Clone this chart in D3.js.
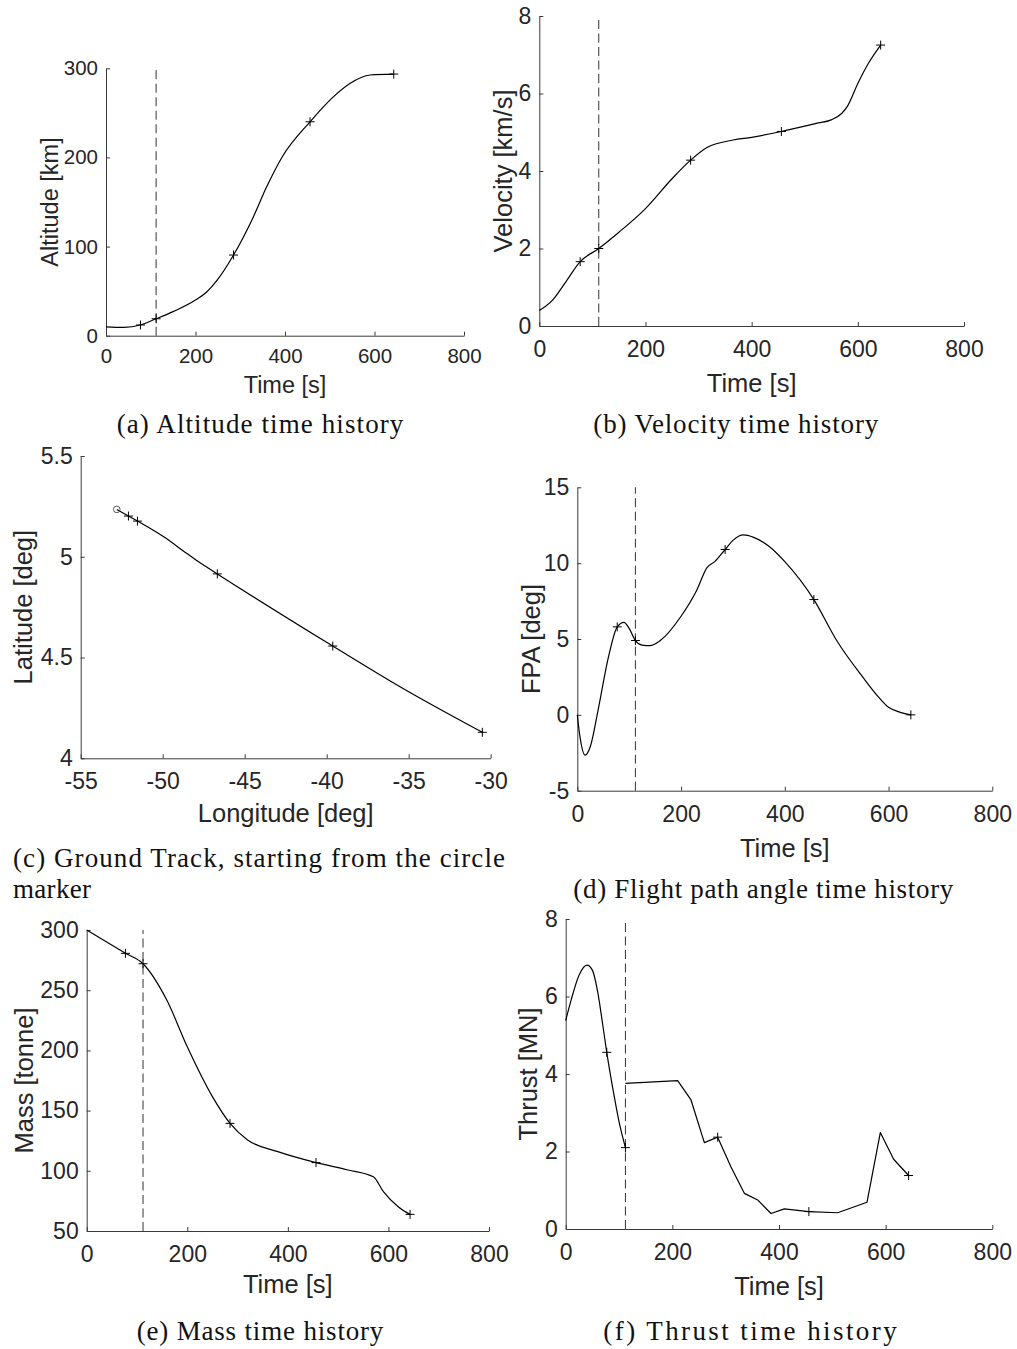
<!DOCTYPE html>
<html><head><meta charset="utf-8">
<script src="https://cdn.jsdelivr.net/npm/d3@7"></script>
<style>
body{margin:0;background:#fff;}
svg{display:block;}
</style></head><body>
<svg id="fig" width="1017" height="1349"></svg>
<script>
// ---------------- data ----------------
const stageSepTime = 112;
const markerTimes = [77, 112, 285, 456, 643];

const timeTicks = [0, 200, 400, 600, 800];
const altTicks = [0, 100, 200, 300];
const velTicks = [0, 2, 4, 6, 8];
const lonTicks = [-55, -50, -45, -40, -35, -30];
const latTicks = [4, 4.5, 5, 5.5];
const fpaTicks = [-5, 0, 5, 10, 15];
const massTicks = [50, 100, 150, 200, 250, 300];
const thrustTicks = [0, 2, 4, 6, 8];

// (a) altitude [km]
const altTime = [0, 40, 77, 112, 150, 200, 225, 248, 285, 329, 359, 393, 456, 508, 545, 590, 643];
const altKm   = [10, 9.4, 12, 19, 27, 40, 49, 62, 90.5, 133, 167, 200, 240, 268, 283, 292.5, 293.5];
const altMarkers = [12, 19, 90.5, 240, 293.5];

// (b) velocity [km/s]
const velTime = [0, 25, 50, 77, 112, 150, 200, 250, 285, 315, 365, 400, 456, 522, 550, 570, 580, 600, 620, 643];
const velKms  = [0.4, 0.67, 1.14, 1.66, 2.0, 2.42, 3.03, 3.8, 4.28, 4.6, 4.8, 4.87, 5.02, 5.23, 5.32, 5.49, 5.66, 6.26, 6.78, 7.25];
const velMarkers = [1.66, 2.0, 4.28, 5.02, 7.25];

// (c) ground track
const trackLon = [-52.8, -52.09, -51.54, -49.96, -48.54, -47.72, -46.67, -39.63, -35.53, -30.51];
const trackLat = [5.235, 5.202, 5.177, 5.10, 5.017, 4.97, 4.915, 4.557, 4.355, 4.129];
const trackMarkerLon = [-52.09, -51.54, -46.67, -39.63, -30.51];
const trackMarkerLat = [5.202, 5.177, 4.915, 4.557, 4.129];
const trackStart = [-52.8, 5.235];

// (d) flight path angle [deg]
const fpaTime = [0, 5, 15, 25, 40, 60, 77, 90, 100, 112, 125, 140, 160, 200, 230, 250, 265, 285, 300, 320, 340, 370, 400, 456, 500, 550, 580, 600, 620, 643];
const fpaDeg  = [0, -1.4, -2.65, -2.1, 0.3, 3.8, 5.8, 6.1, 5.7, 4.9, 4.6, 4.56, 4.9, 6.5, 8.2, 9.7, 10.1, 10.9, 11.5, 11.86, 11.7, 11.1, 10.1, 7.6, 4.9, 2.5, 1.2, 0.5, 0.2, 0];
const fpaMarkers = [5.8, 4.9, 10.9, 7.6, 0];

// (e) mass [tonne]
const massTime  = [0, 77, 112, 159, 200, 250, 285, 320, 380, 456, 520, 570, 590, 620, 643];
const massTonne = [300, 280.6, 272, 242, 203, 161.6, 139.4, 125.6, 115.9, 106.8, 100.7, 95, 82.7, 70, 63.8];
const massMarkers = [280.6, 272, 139.4, 106.8, 63.8];

// (f) thrust [MN] — two separate phases
const thrustTime1 = [0, 10, 25, 40, 50, 60, 70, 77, 90, 100, 112];
const thrustMN1   = [5.38, 5.9, 6.55, 6.81, 6.68, 6.12, 5.22, 4.56, 3.5, 2.77, 2.1];
const thrustTime2 = [112, 210, 235, 260, 285, 310, 335, 360, 385, 410, 456, 510, 565, 590, 615, 643];
const thrustMN2   = [3.76, 3.83, 3.33, 2.23, 2.37, 1.6, 0.92, 0.75, 0.4, 0.52, 0.45, 0.42, 0.69, 2.49, 1.8, 1.38];
const thrustMarkers = [4.56, 2.1, 2.37, 0.45, 1.38];

// ---------------- layout ----------------
const svg = d3.select('#fig');
const sansFont = "'Liberation Sans', Arial, Helvetica, sans-serif";
const serifFont = "'Liberation Serif', 'Times New Roman', serif";
const textColor = '#262626';
const axisColor = '#3a3a3a';
const captionFs = 27;

const panels = [
  { left: 106, right: 464, top: 68.3, bottom: 335.7, xDomain: [0, 800], yDomain: [0, 300],
    xTicks: timeTicks, yTicks: altTicks, xLabel: 'Time [s]', yLabel: 'Altitude [km]',
    tickFs: 20.5, labFs: 23.5, xPad: 13, xLabY: 393, yLabX: 57.5,
    series: [[altTime, altKm, 'smooth']], markers: [markerTimes, altMarkers], dashed: true,
    caption: { text: '(a) Altitude time history', cx: 260, y: 433, w: 286.7 } },
  { left: 539.3, right: 964, top: 16, bottom: 326, xDomain: [0, 800], yDomain: [0, 8],
    xTicks: timeTicks, yTicks: velTicks, xLabel: 'Time [s]', yLabel: 'Velocity [km/s]',
    tickFs: 23, labFs: 25.5, xPad: 14.8, xLabY: 391.7, yLabX: 511.5,
    series: [[velTime, velKms, 'smooth']], markers: [markerTimes, velMarkers], dashed: true,
    caption: { text: '(b) Velocity time history', cx: 735.8, y: 433, w: 285 } },
  { left: 80.7, right: 490.7, top: 456, bottom: 758.3, xDomain: [-55, -30], yDomain: [4, 5.5],
    xTicks: lonTicks, yTicks: latTicks, xLabel: 'Longitude [deg]', yLabel: 'Latitude [deg]',
    tickFs: 23, labFs: 25.5, xPad: 14.8, xLabY: 821.7, yLabX: 32.3,
    series: [[trackLon, trackLat, 'smooth']], markers: [trackMarkerLon, trackMarkerLat], dashed: false,
    start: trackStart,
    caption: { text: '(c) Ground Track, starting from the circle', x: 13, y: 866.7, w: 492,
               text2: 'marker', y2: 898, w2: 78 } },
  { left: 577.3, right: 992.3, top: 487.3, bottom: 790.7, xDomain: [0, 800], yDomain: [-5, 15],
    xTicks: timeTicks, yTicks: fpaTicks, xLabel: 'Time [s]', yLabel: 'FPA [deg]',
    tickFs: 23, labFs: 25.5, xPad: 14.8, xLabY: 856.7, yLabX: 540,
    series: [[fpaTime, fpaDeg, 'smooth']], markers: [markerTimes, fpaMarkers], dashed: true,
    caption: { text: '(d) Flight path angle time history', cx: 763.3, y: 898, w: 380 } },
  { left: 86.7, right: 489, top: 930, bottom: 1231, xDomain: [0, 800], yDomain: [50, 300],
    xTicks: timeTicks, yTicks: massTicks, xLabel: 'Time [s]', yLabel: 'Mass [tonne]',
    tickFs: 23, labFs: 25.5, xPad: 14.8, xLabY: 1293, yLabX: 33.3,
    series: [[massTime, massTonne, 'smooth']], markers: [markerTimes, massMarkers], dashed: true,
    caption: { text: '(e) Mass time history', cx: 260, y: 1340, w: 246.7 } },
  { left: 565.7, right: 992.3, top: 919, bottom: 1229, xDomain: [0, 800], yDomain: [0, 8],
    xTicks: timeTicks, yTicks: thrustTicks, xLabel: 'Time [s]', yLabel: 'Thrust [MN]',
    tickFs: 23, labFs: 25.5, xPad: 14.8, xLabY: 1295, yLabX: 536.7,
    series: [[thrustTime1, thrustMN1, 'smooth'], [thrustTime2, thrustMN2, 'linear']],
    markers: [markerTimes, thrustMarkers], dashed: true,
    caption: { text: '(f) Thrust time history', cx: 750, y: 1340, w: 293.3 } }
];

function styleAxis(sel, fs) {
  sel.attr('font-family', sansFont).attr('font-size', fs);
  sel.select('.domain').attr('stroke', axisColor).attr('stroke-width', 1);
  sel.selectAll('.tick line').attr('stroke', axisColor).attr('stroke-width', 1);
  sel.selectAll('.tick text').attr('fill', textColor);
}

function drawPanel(p) {
  const g = svg.append('g');
  const x = d3.scaleLinear().domain(p.xDomain).range([p.left, p.right]);
  const y = d3.scaleLinear().domain(p.yDomain).range([p.bottom, p.top]);
  const fmt = d => String(d);

  const xAxis = d3.axisBottom(x).tickValues(p.xTicks).tickFormat(fmt)
    .tickSizeInner(-4).tickSizeOuter(0).tickPadding(p.xPad);
  const yAxis = d3.axisLeft(y).tickValues(p.yTicks).tickFormat(fmt)
    .tickSizeInner(-4).tickSizeOuter(0).tickPadding(8);

  g.append('g').attr('transform', `translate(0,${p.bottom})`).call(xAxis).call(s => styleAxis(s, p.tickFs));
  g.append('g').attr('transform', `translate(${p.left},0)`).call(yAxis).call(s => styleAxis(s, p.tickFs));

  // axis labels
  g.append('text').attr('x', (p.left + p.right) / 2).attr('y', p.xLabY)
    .attr('text-anchor', 'middle').attr('font-family', sansFont).attr('font-size', p.labFs)
    .attr('fill', textColor).text(p.xLabel);
  g.append('text').attr('transform', `translate(${p.yLabX},${(p.top + p.bottom) / 2}) rotate(-90)`)
    .attr('text-anchor', 'middle').attr('font-family', sansFont).attr('font-size', p.labFs)
    .attr('fill', textColor).text(p.yLabel);

  // stage separation dashed line
  if (p.dashed) {
    g.append('line').attr('x1', x(stageSepTime)).attr('x2', x(stageSepTime))
      .attr('y1', p.bottom).attr('y2', p.top)
      .attr('stroke', '#333').attr('stroke-width', 1).attr('stroke-dasharray', '9,4.5');
  }

  // curves
  p.series.forEach(([xs, ys, kind]) => {
    const pts = xs.map((v, i) => [v, ys[i]]);
    const line = d3.line().x(d => x(d[0])).y(d => y(d[1]))
      .curve(kind === 'smooth' ? d3.curveMonotoneX : d3.curveLinear);
    g.append('path').attr('d', line(pts)).attr('fill', 'none')
      .attr('stroke', '#000').attr('stroke-width', 1.2).attr('stroke-linejoin', 'round');
  });

  // start circle (ground track)
  if (p.start) {
    g.append('circle').attr('cx', x(p.start[0])).attr('cy', y(p.start[1])).attr('r', 3.3)
      .attr('fill', 'none').attr('stroke', '#444').attr('stroke-width', 0.9);
  }

  // plus markers
  const [mx, my] = p.markers;
  const s = 4.5;
  g.append('g').selectAll('path').data(mx.map((v, i) => [v, my[i]])).join('path')
    .attr('d', d => {
      const cx = x(d[0]), cy = y(d[1]);
      return `M${cx - s},${cy}H${cx + s}M${cx},${cy - s}V${cy + s}`;
    })
    .attr('stroke', '#000').attr('stroke-width', 1).attr('fill', 'none');

  // caption
  const c = p.caption;
  const cap = g.append('text').attr('font-family', serifFont).attr('font-size', captionFs)
    .attr('fill', '#111').attr('y', c.y).text(c.text)
    .attr('textLength', c.w).attr('lengthAdjust', 'spacing');
  if (c.cx !== undefined) cap.attr('x', c.cx).attr('text-anchor', 'middle');
  else cap.attr('x', c.x);
  if (c.text2) {
    g.append('text').attr('font-family', serifFont).attr('font-size', captionFs)
      .attr('fill', '#111').attr('x', c.x).attr('y', c.y2).text(c.text2)
      .attr('textLength', c.w2).attr('lengthAdjust', 'spacing');
  }
}

panels.forEach(drawPanel);
</script>
</body></html>
